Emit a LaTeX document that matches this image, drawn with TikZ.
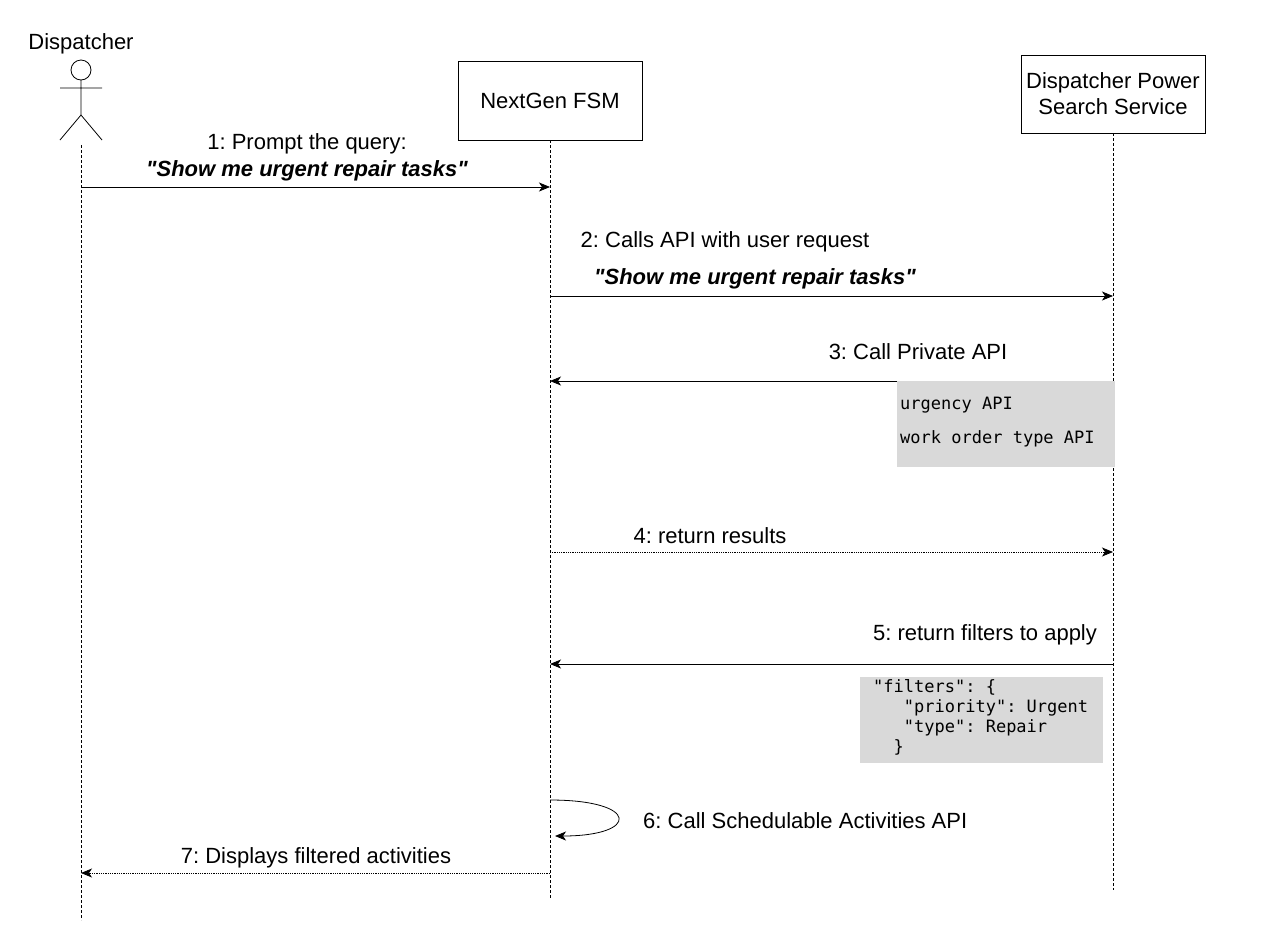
\documentclass[tikz,border=0pt]{standalone}
\usetikzlibrary{arrows.meta}
\usepackage{fontspec}
\setmainfont{Liberation Sans}[Ligatures=TeXOff]
\newfontfamily\codefont{DejaVu Sans Mono}[Ligatures=TeXOff]
\newcommand{\dq}{\symbol{34}}
\frenchspacing
\begin{document}
\begin{tikzpicture}[x=1pt,y=-1pt,
  lbl/.style={font=\fontsize{22}{24}\selectfont},
  emph/.style={font=\fontsize{22}{24}\selectfont\bfseries\itshape},
  code/.style={font=\codefont\fontsize{17}{20}\selectfont,align=left,anchor=north west,inner sep=0pt},
  box/.style={draw,fill=white,line width=0.8pt,align=center,font=\fontsize{22}{26}\selectfont},
  life/.style={densely dashed,line width=0.6pt},
  msg/.style={-{Stealth[length=11pt,width=9pt,inset=3pt]},line width=0.8pt},
  ret/.style={msg,densely dotted},
  note/.style={fill=black!15,draw=none}]
\useasboundingbox (0,0) rectangle (1268,938);
% actor
\node[lbl] (actlbl) at (81,44) {Dispatcher};
\draw[line width=0.8pt] (81,70) circle (10);
\draw[line width=0.8pt] (81,80) -- (81,115) (60,88) -- (102,88) (60,140) -- (81,115) -- (102,140);
\coordinate (a0) at (81,145); \coordinate (a1) at (81,920);
\draw[life] (a0) -- (a1);
% boxes
\node[box,minimum width=184pt,minimum height=79pt] (fsm) at (550,100.5) {NextGen FSM};
\node[box,minimum width=184pt,minimum height=78pt] (dps) at (1113,94) {Dispatcher Power\\Search Service};
\coordinate (f1) at (550,898); \coordinate (d1) at (1113,890);
\draw[life] (fsm.south) -- (f1);
\draw[life] (dps.south) -- (d1);
% messages
\coordinate (m1a) at (81,187); \coordinate (m1b) at (550,187);
\draw[msg] (m1a) -- (m1b);
\node[lbl] (l1) at (307,144) {1: Prompt the query:};
\node[emph] (l1b) at (307,171) {\dq Show me urgent repair tasks\dq};
\coordinate (m2a) at (550,296); \coordinate (m2b) at (1113,296);
\draw[msg] (m2a) -- (m2b);
\node[lbl] (l2) at (725,242) {2: Calls API with user request};
\node[emph] (l2b) at (755,279) {\dq Show me urgent repair tasks\dq};
\coordinate (m3a) at (1113,381); \coordinate (m3b) at (550,381);
\draw[msg] (m3a) -- (m3b);
\node[lbl] (l3) at (918,352) {3: Call Private API};
\fill[note] (897,381) rectangle (1115,467);
\node[code] (c1) at (900,397) {urgency API\\[14pt]work order type API};
\coordinate (m4a) at (550,552); \coordinate (m4b) at (1113,552);
\draw[ret] (m4a) -- (m4b);
\node[lbl] (l4) at (710,536) {4: return results};
\coordinate (m5a) at (1113,664); \coordinate (m5b) at (550,664);
\draw[msg] (m5a) -- (m5b);
\node[lbl] (l5) at (985,635) {5: return filters to apply};
\fill[note] (860,677) rectangle (1103,763);
\node[code] (c2) at (873,679) {\dq filters\dq: \{\\\ \ \ \dq priority\dq: Urgent\\\ \ \ \dq type\dq: Repair\\\ \ \}};
\coordinate (m6a) at (550,800); \coordinate (m6b) at (555,836);
\draw[msg] (m6a) .. controls (640,800) and (640,836) .. (m6b);
\node[lbl,anchor=west,inner sep=0pt] (l6) at (643,821) {6: Call Schedulable Activities API};
\coordinate (m7a) at (550,873); \coordinate (m7b) at (81,873);
\draw[ret] (m7a) -- (m7b);
\node[lbl] (l7) at (316,858) {7: Displays filtered activities};
\end{tikzpicture}
\end{document}
